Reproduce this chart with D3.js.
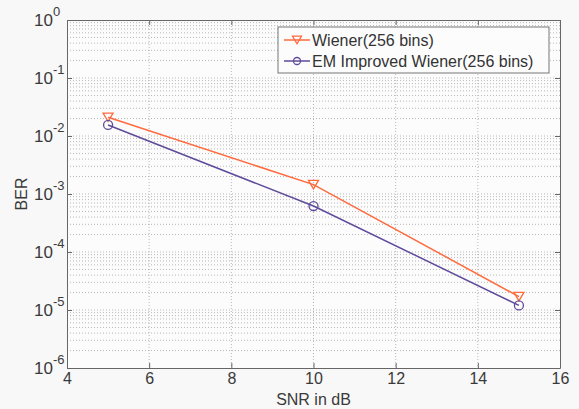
<!DOCTYPE html>
<html>
<head>
<meta charset="utf-8">
<script src="https://cdn.jsdelivr.net/npm/d3@7"></script>
<style>
  body { margin: 0; background: #f8f8f8; }
  svg { font-family: "Liberation Sans", Arial, sans-serif; }
</style>
</head>
<body>
<div id="chart"></div>
<script>
// data
const snr = [5, 10, 15];
const berWiener = [0.021, 0.00145, 1.7e-5];
const berEM = [0.0155, 0.00062, 1.2e-5];
const seriesNames = ["Wiener(256 bins)", "EM Improved Wiener(256 bins)"];
const xTicks = [4, 6, 8, 10, 12, 14, 16];
const yExponents = [0, -1, -2, -3, -4, -5, -6];

const W = 579, H = 409;
const margin = {top: 20, right: 19, bottom: 41, left: 67};
const width = W - margin.left - margin.right,
      height = H - margin.top - margin.bottom;

const svg = d3.select("#chart").append("svg")
  .attr("width", W).attr("height", H);

const g = svg.append("g")
  .attr("transform", `translate(${margin.left},${margin.top})`);

const x = d3.scaleLinear().domain([4, 16]).range([0, width]);
const y = d3.scaleLog().domain([1e-6, 1]).range([height, 0]);

// plot background
g.append("rect").attr("width", width).attr("height", height).attr("fill", "#fcfcfc");

// grid lines
const grid = g.append("g").attr("stroke", "#b8b8b8").attr("stroke-dasharray", "1,2").attr("stroke-width", 1);
xTicks.slice(1, -1).forEach(t => {
  grid.append("line").attr("x1", x(t)).attr("x2", x(t)).attr("y1", 0).attr("y2", height);
});
for (let e = -6; e < 0; e++) {
  for (let m = 1; m <= 9; m++) {
    const v = m * Math.pow(10, e);
    if (e === -6 && m === 1) continue;
    grid.append("line").attr("x1", 0).attr("x2", width).attr("y1", y(v)).attr("y2", y(v));
  }
}

// axes
const axisColor = "#666";
const xAxis = g.append("g").attr("transform", `translate(0,${height})`)
  .call(d3.axisBottom(x).tickValues(xTicks).tickSize(-5).tickPadding(5).tickSizeOuter(0));
g.append("g").attr("transform", `translate(0,0)`)
  .call(d3.axisTop(x).tickValues(xTicks).tickSize(-5).tickFormat("").tickSizeOuter(0));
const yAxis = g.append("g")
  .call(d3.axisLeft(y).tickValues(yExponents.map(e => Math.pow(10, e))).tickSize(-5).tickFormat("").tickSizeOuter(0));
g.append("g").attr("transform", `translate(${width},0)`)
  .call(d3.axisRight(y).tickValues(yExponents.map(e => Math.pow(10, e))).tickSize(-5).tickFormat("").tickSizeOuter(0));
g.selectAll(".domain, .tick line").attr("stroke", axisColor);
xAxis.selectAll("text").attr("fill", "#3a3a3a").style("font-size", "16px");

// y tick labels as 10^e
yExponents.forEach(e => {
  const yy = y(Math.pow(10, e));
  g.append("text")
    .attr("x", -14).attr("y", yy + 6)
    .attr("text-anchor", "end").attr("fill", "#3a3a3a").style("font-size", "17px")
    .text("10");
  g.append("text")
    .attr("x", -14).attr("y", yy - 4)
    .attr("text-anchor", "start").attr("fill", "#3a3a3a").style("font-size", "13px")
    .text(e);
});

// axis labels
svg.append("text").attr("x", margin.left + width / 2).attr("y", 405)
  .attr("text-anchor", "middle").attr("fill", "#3a3a3a").style("font-size", "16px").text("SNR in dB");
svg.append("text").attr("transform", `translate(27,${margin.top + height / 2}) rotate(-90)`)
  .attr("text-anchor", "middle").attr("fill", "#3a3a3a").style("font-size", "16px").text("BER");

// series
const colors = ["#ff6a3d", "#5f4b9b"];
const series = [berWiener, berEM];
const line = d3.line().x((d, i) => x(snr[i])).y(d => y(d));

const triangle = s => `M${-s},${-s * 0.85}L${s},${-s * 0.85}L0,${s * 0.85}Z`;

series.forEach((vals, k) => {
  g.append("path").datum(vals).attr("d", line)
    .attr("fill", "none").attr("stroke", colors[k]).attr("stroke-width", 1.5);
  vals.forEach((v, i) => {
    if (k === 0) {
      g.append("path").attr("d", triangle(5))
        .attr("transform", `translate(${x(snr[i])},${y(v)})`)
        .attr("fill", "none").attr("stroke", colors[k]).attr("stroke-width", 1.3);
    } else {
      g.append("circle").attr("cx", x(snr[i])).attr("cy", y(v)).attr("r", 4.5)
        .attr("fill", "none").attr("stroke", colors[k]).attr("stroke-width", 1.3);
    }
  });
});

// legend
const lg = g.append("g").attr("transform", `translate(${278 - margin.left},${27 - margin.top})`);
lg.append("rect").attr("width", 271).attr("height", 46)
  .attr("fill", "#fcfcfc").attr("stroke", "#777").attr("stroke-width", 1);
seriesNames.forEach((name, k) => {
  const ly = 13 + k * 21;
  lg.append("line").attr("x1", 6).attr("x2", 32).attr("y1", ly).attr("y2", ly)
    .attr("stroke", colors[k]).attr("stroke-width", 1.5);
  if (k === 0) {
    lg.append("path").attr("d", triangle(4.5)).attr("transform", `translate(19,${ly})`)
      .attr("fill", "none").attr("stroke", colors[k]).attr("stroke-width", 1.3);
  } else {
    lg.append("circle").attr("cx", 19).attr("cy", ly).attr("r", 3.5)
      .attr("fill", "none").attr("stroke", colors[k]).attr("stroke-width", 1.3);
  }
  lg.append("text").attr("x", 34).attr("y", ly + 6).attr("fill", "#333")
    .style("font-size", "16px").text(name);
});
</script>
</body>
</html>
